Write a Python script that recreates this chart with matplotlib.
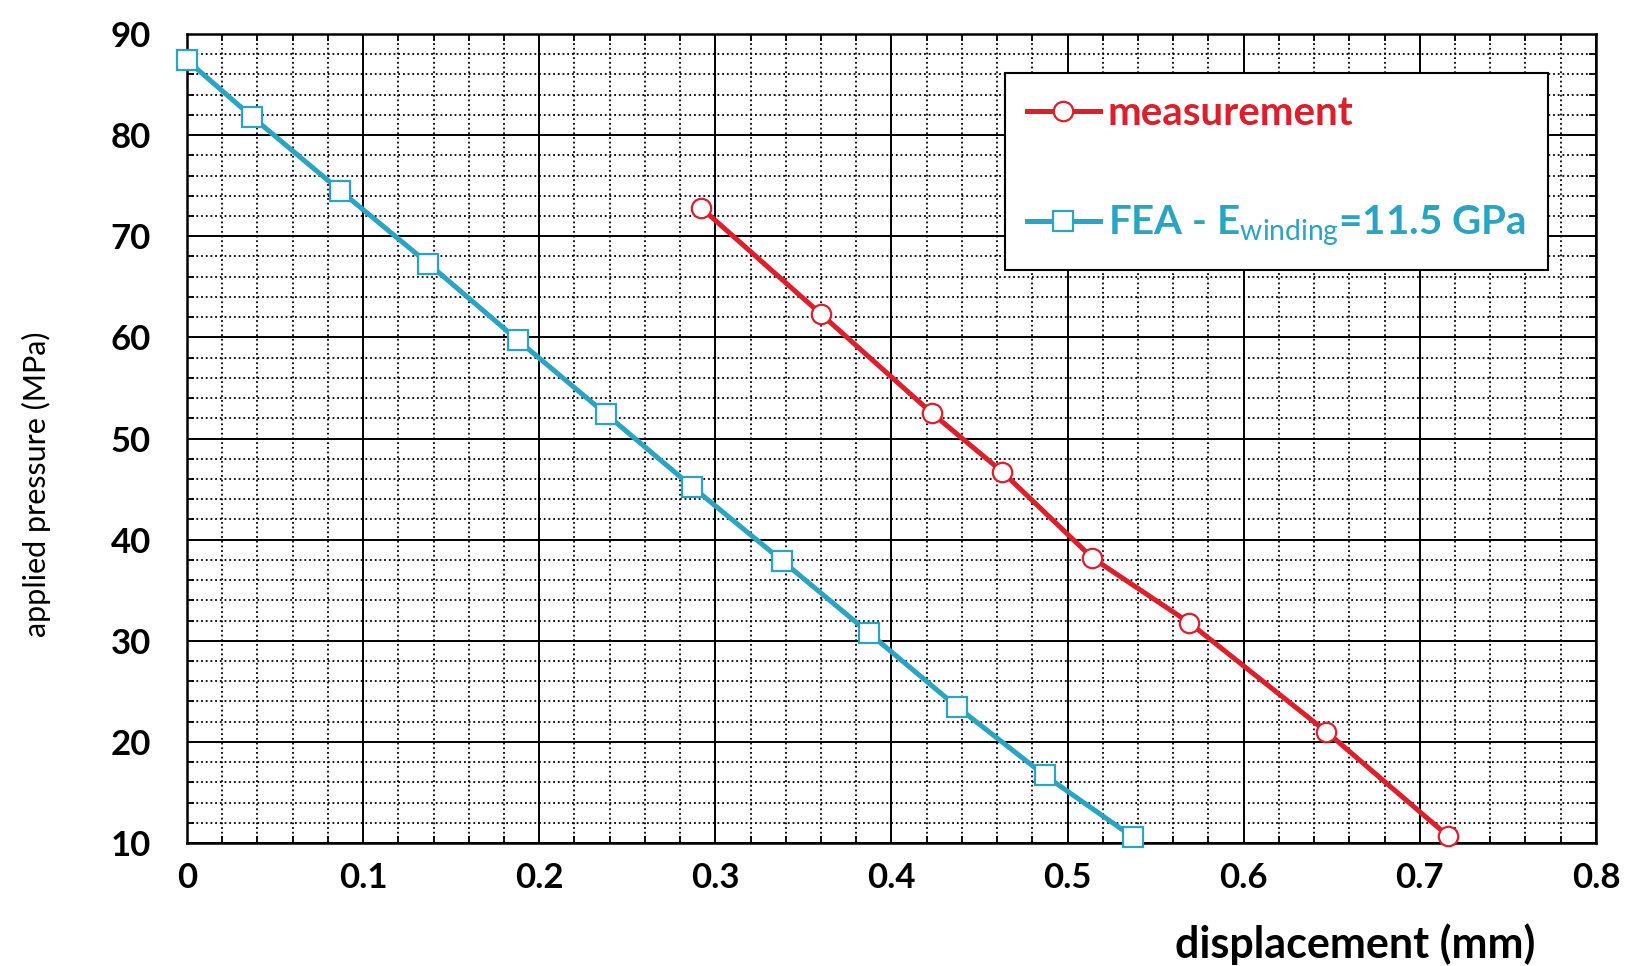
import numpy as np
import matplotlib.pyplot as plt
from matplotlib.ticker import MultipleLocator, FormatStrFormatter

# measurement (red circles)
meas_disp = [0.292, 0.360, 0.423, 0.463, 0.514, 0.569, 0.647, 0.716]
meas_press = [72.8, 62.3, 52.5, 46.7, 38.2, 31.8, 21.0, 10.7]

# FEA, E_winding = 11.5 GPa (blue squares)
fea_disp = [0.0, 0.037, 0.087, 0.137, 0.188, 0.238, 0.287, 0.338, 0.387, 0.437, 0.487, 0.537]
fea_press = [87.4, 81.8, 74.5, 67.3, 59.7, 52.4, 45.2, 37.9, 30.8, 23.5, 16.7, 10.6]

red = '#dc1f2b'
blue = '#2ba3c2'

plt.rcParams['font.family'] = ['Lato', 'DejaVu Sans']
plt.rcParams['mathtext.fontset'] = 'custom'
plt.rcParams['mathtext.rm'] = 'Lato'
plt.rcParams['mathtext.it'] = 'Lato'

fig = plt.figure(figsize=(16.35, 9.66), dpi=100)
ax = fig.add_axes([0.1144, 0.1273, 0.8617, 0.8375])

ax.plot(meas_disp, meas_press, '-o', color=red, lw=3.6, ms=14, mfc='white',
        mec=red, mew=1.6, label='measurement', zorder=5, clip_on=False)
ax.plot(fea_disp, fea_press, '-s', color=blue, lw=3.6, ms=14, mfc='white',
        mec=blue, mew=1.6, label=r'FEA - E$_{\mathrm{winding}}$=11.5 GPa', zorder=5,
        clip_on=False)

ax.set_xlim(0, 0.8)
ax.set_ylim(10, 90)
ax.xaxis.set_major_locator(MultipleLocator(0.1))
ax.xaxis.set_minor_locator(MultipleLocator(0.02))
ax.yaxis.set_major_locator(MultipleLocator(10))
ax.yaxis.set_minor_locator(MultipleLocator(2))
ax.xaxis.set_major_formatter(FormatStrFormatter('%g'))

ax.grid(which='major', color='black', lw=1.4, ls='-')
ax.grid(which='minor', color='black', lw=1.3, ls=(0, (1, 1.6)))
ax.set_axisbelow(True)
for sp in ax.spines.values():
    sp.set_linewidth(1.8)

ax.tick_params(which='both', direction='in', top=True, right=True)
ax.tick_params(which='major', length=0, labelsize=25)
ax.tick_params(which='minor', length=5, width=1.3)
ax.tick_params(axis='x', which='major', pad=14)
ax.tick_params(axis='y', which='major', pad=26)
for lab in ax.get_xticklabels() + ax.get_yticklabels():
    lab.set_fontweight('bold')

ax.set_xlabel('displacement (mm)', fontsize=31, fontweight='bold')
ax.xaxis.set_label_coords(0.829, -0.125)
ax.xaxis.label.set_verticalalignment('center')
ax.set_ylabel('applied pressure (MPa)', fontsize=22)
ax.yaxis.set_label_coords(-0.107, 0.443)
ax.yaxis.label.set_verticalalignment('center')

leg = ax.legend(loc='upper left', bbox_to_anchor=(0.5806, 0.9518), borderaxespad=0,
                fancybox=False, framealpha=1, edgecolor='black',
                prop={'weight': 'bold', 'size': 29}, handlelength=1.8,
                handletextpad=0.2, labelspacing=1.78, borderpad=0.55)
leg.get_frame().set_linewidth(1.5)
for txt, c in zip(leg.get_texts(), [red, blue]):
    txt.set_color(c)

fig.savefig('out.png', dpi=100)
